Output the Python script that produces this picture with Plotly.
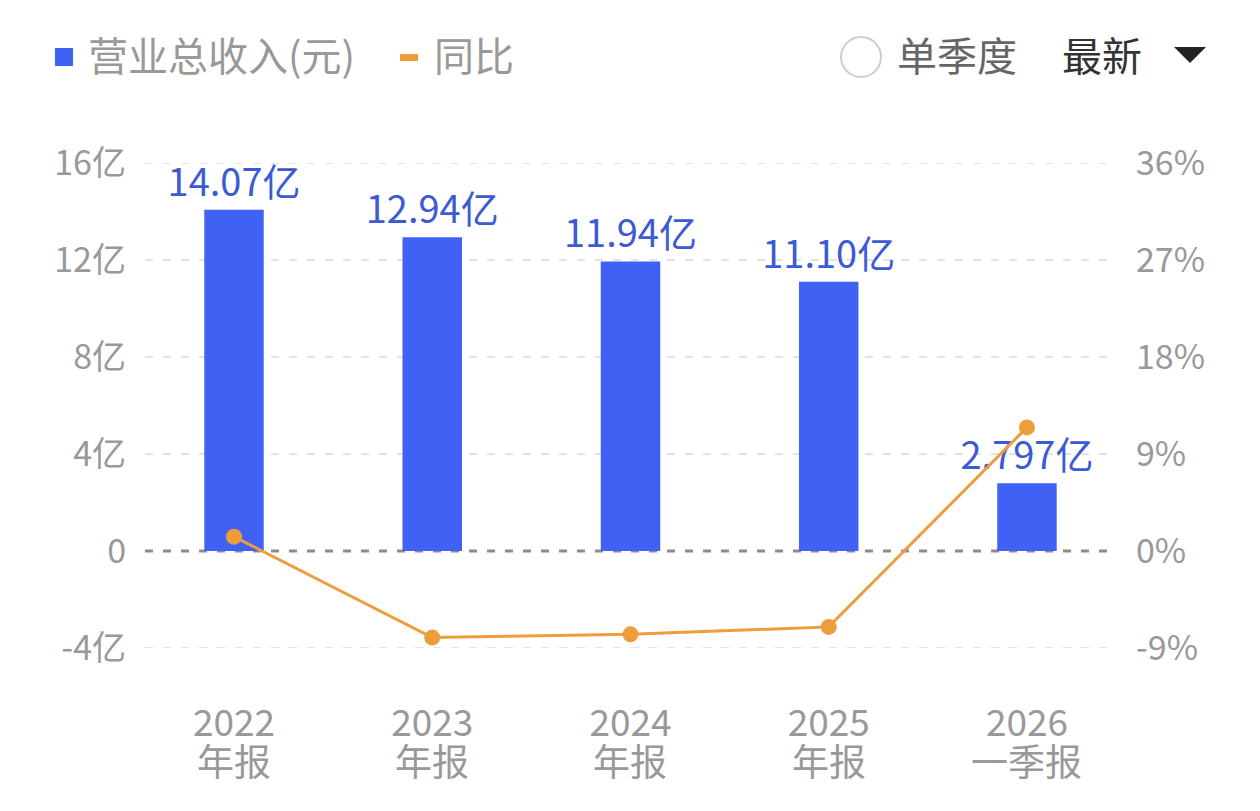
import plotly.graph_objects as go

# chart data
years = ["2022", "2023", "2024", "2025", "2026"]
kinds = ["年报", "年报", "年报", "年报", "一季报"]
revenue = [14.07, 12.94, 11.94, 11.10, 2.797]  # 亿元
revenue_labels = ["14.07亿", "12.94亿", "11.94亿", "11.10亿", "2.797亿"]
yoy = [1.33, -8.03, -7.73, -7.04, 11.47]  # %

left_ticks = [-4, 0, 4, 8, 12, 16]
left_ticktext = ["-4亿", "0", "4亿", "8亿", "12亿", "16亿"]
right_ticks = [-9, 0, 9, 18, 27, 36]
right_ticktext = ["-9%", "0%", "9%", "18%", "27%", "36%"]

BAR = '#3f62f4'
LABEL = '#3c5bd3'
LINE = '#ee9d3b'
GREY = '#999999'
FONT = "Noto Sans CJK SC"

W, H = 1260, 811
OFF = 8  # page offset of the plot inside the browser
L, R, T, B = 145, 1113, 163, 648  # plot area in screen pixels


def px(x):
    return (x - L) / (R - L)


def py(y):
    return (B - y) / (B - T)


fig = go.Figure()

fig.add_trace(go.Bar(
    x=years,
    y=revenue,
    width=0.30,
    marker=dict(color=BAR, line=dict(width=0)),
    text=revenue_labels,
    textposition='outside',
    constraintext='none',
    cliponaxis=False,
    textfont=dict(family=FONT, size=38, color=LABEL),
    name='营业总收入(元)',
))

fig.add_trace(go.Scatter(
    x=years,
    y=yoy,
    yaxis='y2',
    mode='lines+markers',
    line=dict(color=LINE, width=3),
    marker=dict(color=LINE, size=16),
    cliponaxis=False,
    name='同比',
))

# dashed gridlines, darker at zero
for v in left_ticks:
    if v == 0:
        fig.add_shape(type='line', xref='paper', yref='y', x0=0, x1=1, y0=v, y1=v,
                      line=dict(color='#8c8c8c', width=3, dash='8px,10px'), layer='between')
    else:
        fig.add_shape(type='line', xref='paper', yref='y', x0=0, x1=1, y0=v, y1=v,
                      line=dict(color='#e3e3e3', width=2, dash='8px,10px'), layer='below')

# second line of the x labels
for i, kd in enumerate(kinds):
    fig.add_annotation(x=i, xref='x', yref='paper', y=py(760),
                       yanchor='middle', text=kd, showarrow=False,
                       font=dict(family=FONT, size=37, color=GREY))

# custom legend / controls row
ly = 54
fig.add_shape(type='rect', xref='paper', yref='paper',
              x0=px(55), x1=px(73), y0=py(66), y1=py(48),
              fillcolor=BAR, line=dict(width=0))
fig.add_shape(type='rect', xref='paper', yref='paper',
              x0=px(400), x1=px(418), y0=py(61), y1=py(54),
              fillcolor=LINE, line=dict(width=0))
fig.add_shape(type='circle', xref='paper', yref='paper',
              x0=px(841), x1=px(881), y0=py(77), y1=py(37),
              fillcolor='white', line=dict(color='#cccccc', width=2))
fig.add_shape(type='path', xref='paper', yref='paper',
              path=f"M {px(1174)} {py(47)} L {px(1206)} {py(47)} L {px(1190)} {py(63)} Z",
              fillcolor='#222222', line=dict(width=0))

legend_items = [
    (86, "营业总收入(元)", GREY),
    (432, "同比", GREY),
    (895, "单季度", '#666666'),
    (1060, "最新", '#333333'),
]
for x0, txt, col in legend_items:
    fig.add_annotation(xref='paper', yref='paper', x=px(x0), y=py(ly),
                       xanchor='left', yanchor='middle', text=txt, showarrow=False,
                       font=dict(family=FONT, size=40, color=col))

fig.update_layout(
    width=W, height=H,
    margin=dict(l=L - OFF, r=W - R + OFF, t=T - OFF, b=H - B + OFF, pad=0),
    paper_bgcolor='white',
    plot_bgcolor='white',
    showlegend=False,
    font=dict(family=FONT, color=GREY),
    xaxis=dict(
        type='category',
        range=[-0.449, 4.434],
        showgrid=False, zeroline=False, showline=False,
        ticks='', ticklabelstandoff=50,
        tickfont=dict(family=FONT, size=37, color=GREY),
    ),
    yaxis=dict(
        range=[-4, 16],
        tickvals=left_ticks, ticktext=left_ticktext,
        showgrid=False, zeroline=False, showline=False, ticks='',
        ticklabelstandoff=18,
        tickfont=dict(family=FONT, size=34, color=GREY),
    ),
    yaxis2=dict(
        range=[-9, 36],
        overlaying='y', side='right',
        tickvals=right_ticks, ticktext=right_ticktext,
        showgrid=False, zeroline=False, showline=False, ticks='',
        ticklabelstandoff=22,
        tickfont=dict(family=FONT, size=34, color=GREY),
    ),
)

fig.write_html("out.html")
